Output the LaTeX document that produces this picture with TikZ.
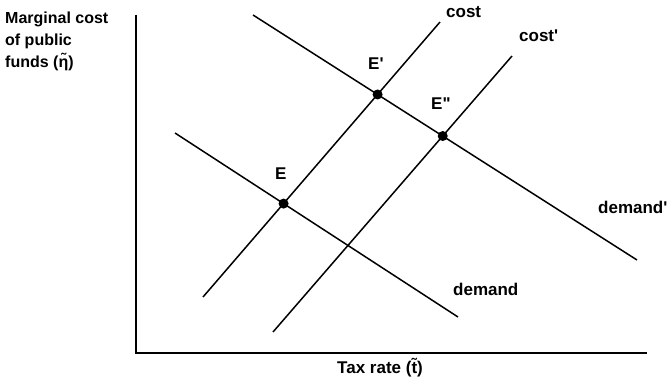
\documentclass[tikz,border=0pt]{standalone}
\usepackage{fontspec}
\setmainfont{Liberation Sans}
\usepackage{tikz}
\usetikzlibrary{positioning}

\begin{document}
\begin{tikzpicture}[
  x=1pt, y=-1pt,
  axis/.style={line width=2pt},
  curve/.style={line width=1.5pt},
  eqpt/.style={circle, fill=black, inner sep=0pt, minimum size=10pt},
  lbl/.style={inner sep=0pt, anchor=base west, font=\fontsize{17}{22}\selectfont\bfseries},
  ylbl/.style={inner sep=0pt, anchor=north west, align=left, font=\fontsize{16}{22}\selectfont\bfseries},
]
\useasboundingbox (0,0) rectangle (669,385);

% Axes
\coordinate (top) at (136,15);
\coordinate (origin) at (136,353);
\coordinate (right) at (647,353);
\draw[axis] (top) -- (origin) -- (right);

% Curve end points
\coordinate (d1) at (175,133);
\coordinate (d2) at (458,317);
\coordinate (dp1) at (253,15);
\coordinate (dp2) at (637,260);
\coordinate (c1) at (203,297);
\coordinate (c2) at (440,22);
\coordinate (cp1) at (273,332);
\coordinate (cp2) at (512,56);

% Curves
\draw[curve] (d1) -- (d2);
\draw[curve] (dp1) -- (dp2);
\draw[curve] (c1) -- (c2);
\draw[curve] (cp1) -- (cp2);

% Equilibria
\node[eqpt] (E) at (intersection of d1--d2 and c1--c2) {};
\node[eqpt] (E1) at (intersection of dp1--dp2 and c1--c2) {};
\node[eqpt] (E2) at (intersection of dp1--dp2 and cp1--cp2) {};

% Labels
\node[ylbl] (ylab) at (5,12) {Marginal cost\\of public\\funds (\~{η})};
\node[lbl] (xlab) at (337,373) {Tax rate (\~{t})};
\node[lbl] (costlab) at (446,18) {cost};
\node[lbl] (costplab) at (519,42) {cost\textquotesingle};
\node[lbl] (Elab) at (275,179) {E};
\node[lbl] (E1lab) at (368,70) {E\textquotesingle};
\node[lbl] (E2lab) at (431,110) {E\textquotedbl};
\node[lbl] (demlab) at (453,295) {demand};
\node[lbl] (dempl) at (598,213) {demand\textquotesingle};
\end{tikzpicture}
\end{document}
